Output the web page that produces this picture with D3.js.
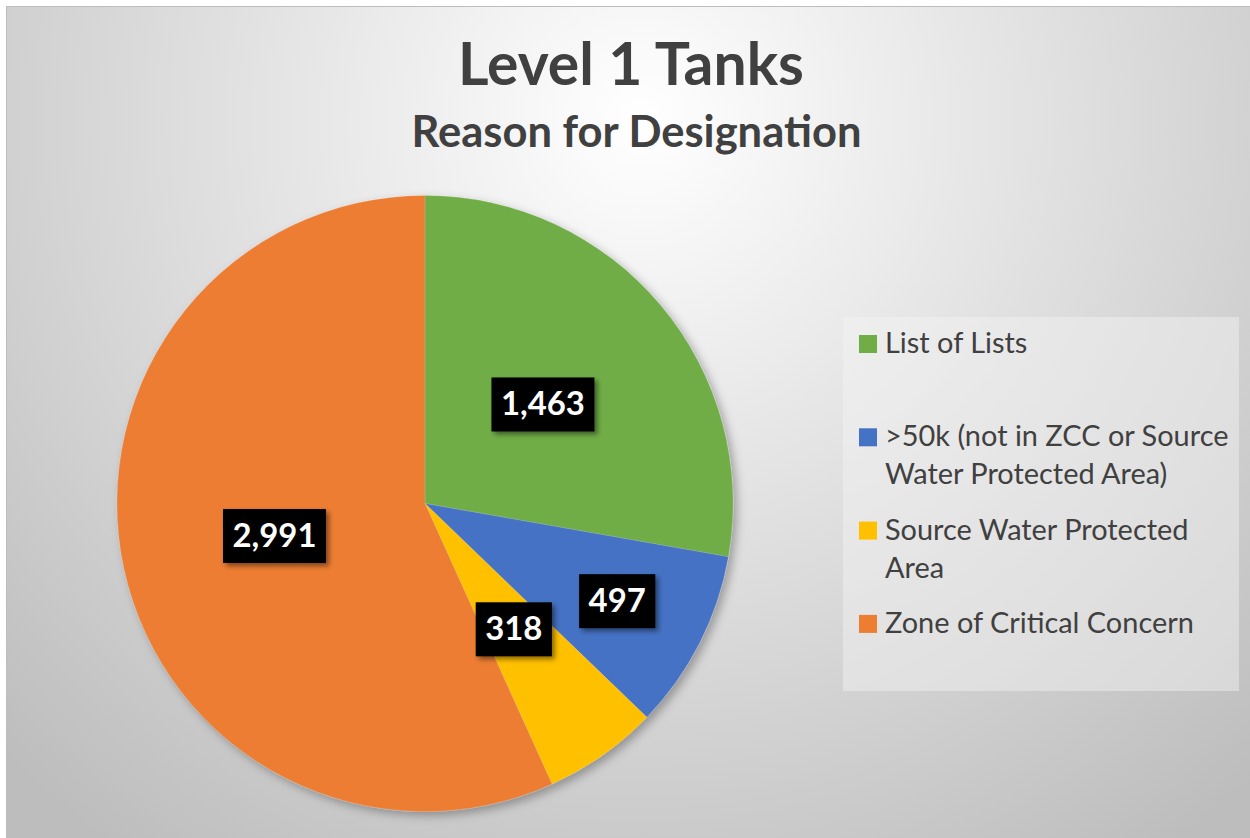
<!DOCTYPE html>
<html>
<head>
<meta charset="utf-8">
<script src="https://cdn.jsdelivr.net/npm/d3@7"></script>
<style>
  html, body { margin: 0; padding: 0; background: #fff; }
  svg { display: block; }
</style>
</head>
<body>
<div id="chart"></div>
<script>
/* data */
var categories = [
        "List of Lists",
        ">50k (not in ZCC or Source Water Protected Area)",
        "Source Water Protected Area",
        "Zone of Critical Concern"
    ],
    values = [1463, 497, 318, 2991],
    colors = ["#70AD47", "#4472C4", "#FFC000", "#ED7D31"],
    title = "Level 1 Tanks",
    subtitle = "Reason for Designation";

/* layout */
var width = 1250,
    height = 838,
    font = "Lato, 'Open Sans', sans-serif",
    textCol = "#404040",
    cx = 425,
    cy = 503.5,
    radius = 308,
    // blue slice label sits further out, the rest at half radius
    labelRadius = function(i) { return i === 1 ? 0.7 : 0.5; },
    lgd = { x: 843, y: 317, w: 396, h: 374, firstBase: 353, step: 93.3, lineH: 38, wrap: 352 };

var data = categories.map(function(c, i) {
    return { name: c, value: values[i], color: colors[i] };
});

var svg = d3.select("#chart")
    .append("svg")
    .attr("width", width)
    .attr("height", height);

var defs = svg.append("defs");

var bgGrad = defs.append("radialGradient")
    .attr("id", "bg")
    .attr("gradientUnits", "userSpaceOnUse")
    .attr("cx", 640)
    .attr("cy", 120)
    .attr("r", 900);
bgGrad.append("stop").attr("offset", 0).attr("stop-color", "#ffffff");
bgGrad.append("stop").attr("offset", 1).attr("stop-color", "#bdbdbd");

defs.append("filter")
    .attr("id", "pieShadow")
    .attr("x", "-10%").attr("y", "-10%")
    .attr("width", "130%").attr("height", "130%")
    .append("feDropShadow")
    .attr("dx", 4).attr("dy", 4)
    .attr("stdDeviation", 5)
    .attr("flood-color", "#000")
    .attr("flood-opacity", 0.3);

defs.append("filter")
    .attr("id", "boxShadow")
    .attr("x", "-20%").attr("y", "-20%")
    .attr("width", "150%").attr("height", "160%")
    .append("feDropShadow")
    .attr("dx", 3).attr("dy", 3)
    .attr("stdDeviation", 2.5)
    .attr("flood-color", "#000")
    .attr("flood-opacity", 0.45);

// background + thin frame
svg.append("rect")
    .attr("x", 6).attr("y", 6)
    .attr("width", width - 6).attr("height", height - 6)
    .attr("fill", "url(#bg)");
svg.append("path")
    .attr("d", "M6.5," + height + "V6.5H" + width)
    .attr("fill", "none")
    .attr("stroke", "#bdbdbd")
    .attr("stroke-width", 1);

// fit a text element's font size so its width matches target
function fit(sel, target) {
    var size = parseFloat(sel.style("font-size")),
        w = sel.node().getComputedTextLength();
    if (w > 0) sel.style("font-size", (size * target / w) + "px");
    return sel;
}

/* titles */
var titleT = svg.append("text")
    .attr("x", 631).attr("y", 85)
    .attr("text-anchor", "middle")
    .style("font-family", font)
    .style("font-weight", 700)
    .style("font-size", "56px")
    .attr("fill", textCol)
    .text(title);
fit(titleT, 346);

var subT = svg.append("text")
    .attr("x", 636.5).attr("y", 147)
    .attr("text-anchor", "middle")
    .style("font-family", font)
    .style("font-weight", 700)
    .style("font-size", "38px")
    .attr("fill", textCol)
    .text(subtitle);
fit(subT, 450);

/* pie */
var pie = d3.pie()
    .sort(null)
    .value(function(d) { return d.value; }),
    arc = d3.arc()
    .innerRadius(0)
    .outerRadius(radius),
    arcs = pie(data);

var pieG = svg.append("g")
    .attr("transform", "translate(" + cx + "," + cy + ")");

pieG.append("g")
    .attr("filter", "url(#pieShadow)")
    .selectAll("path")
    .data(arcs)
    .join("path")
    .attr("d", arc)
    .attr("fill", function(d) { return d.data.color; })
    .attr("stroke", "#ffffff")
    .attr("stroke-opacity", 0.2)
    .attr("stroke-width", 0.6);

/* data labels */
var fmt = d3.format(",");
var lbls = pieG.selectAll("g.lbl")
    .data(arcs)
    .join("g")
    .attr("class", "lbl")
    .attr("transform", function(d, i) {
        var r = radius * labelRadius(i),
            p = d3.arc().innerRadius(r).outerRadius(r).centroid(d);
        return "translate(" + p[0] + "," + p[1] + ")";
    });

var lblRect = lbls.append("rect")
    .attr("fill", "#000")
    .attr("filter", "url(#boxShadow)");

var lblText = lbls.append("text")
    .attr("text-anchor", "middle")
    .attr("y", 11)
    .style("font-family", font)
    .style("font-weight", 700)
    .style("font-size", "30px")
    .attr("fill", "#fff")
    .text(function(d) { return fmt(d.data.value); });

// one font size for all labels, sized from the widest one
var lblSize = parseFloat(lblText.style("font-size")) * 84 /
    lblText.nodes()[0].getComputedTextLength();
lblText.style("font-size", lblSize + "px");

lblRect.each(function() {
    var w = this.parentNode.querySelector("text").getComputedTextLength() + 19;
    d3.select(this)
        .attr("x", -w / 2)
        .attr("y", -27)
        .attr("width", w)
        .attr("height", 54);
});

/* legend */
var legend = svg.append("g")
    .attr("class", "legend");

legend.append("rect")
    .attr("x", lgd.x).attr("y", lgd.y)
    .attr("width", lgd.w).attr("height", lgd.h)
    .attr("fill", "#f4f4f4")
    .attr("fill-opacity", 0.45);

var probe = legend.append("text")
    .style("font-family", font)
    .style("font-size", "26px")
    .text("Zone of Critical Concern");
fit(probe, 309);
var lgdSize = parseFloat(probe.style("font-size"));
probe.remove();

data.forEach(function(d, i) {
    var base = lgd.firstBase + i * lgd.step,
        item = legend.append("g");
    item.append("rect")
        .attr("x", 859)
        .attr("y", base - 18)
        .attr("width", 18)
        .attr("height", 18)
        .attr("fill", d.color);

    var t = item.append("text")
        .attr("x", 885)
        .attr("y", base)
        .style("font-family", font)
        .style("font-size", lgdSize + "px")
        .attr("fill", textCol);

    // simple word wrap
    var words = d.name.split(" "),
        line = [],
        lineNo = 0,
        tspan = t.append("tspan").attr("x", 885).attr("y", base);
    words.forEach(function(w) {
        line.push(w);
        tspan.text(line.join(" "));
        if (tspan.node().getComputedTextLength() > lgd.wrap && line.length > 1) {
            line.pop();
            tspan.text(line.join(" "));
            line = [w];
            lineNo++;
            tspan = t.append("tspan")
                .attr("x", 885)
                .attr("y", base + lineNo * lgd.lineH)
                .text(w);
        }
    });
});
</script>
</body>
</html>
